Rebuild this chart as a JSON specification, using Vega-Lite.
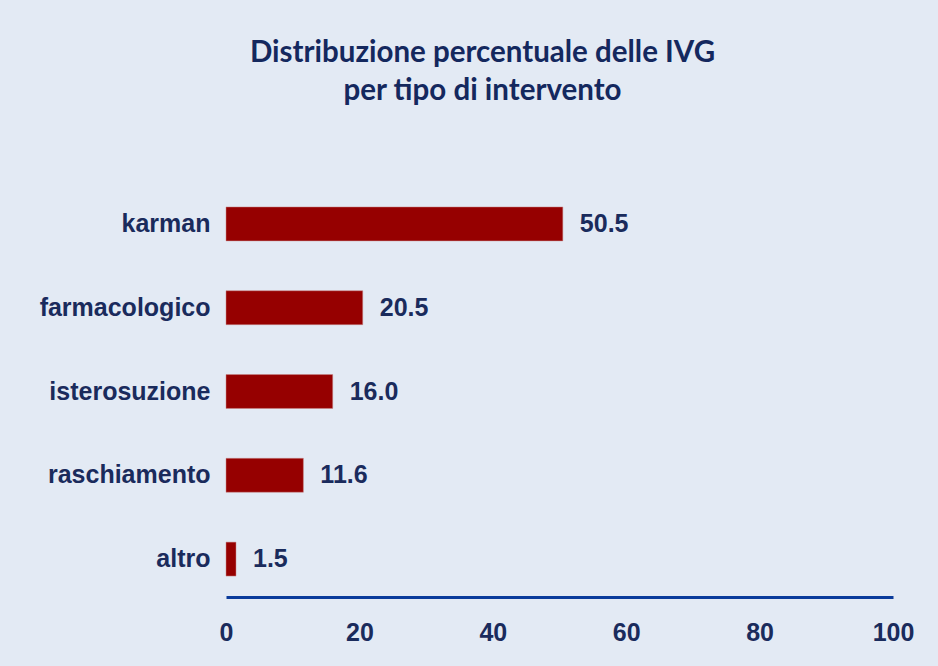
{
  "$schema": "https://vega.github.io/schema/vega-lite/v6.json",
  "width": 667,
  "height": 411,
  "autosize": {"type": "none"},
  "padding": {"left": 226, "top": 186, "right": 45, "bottom": 69},
  "background": "#E3EAF4",
  "config": {"view": {"stroke": null}},
  "title": {
    "text": ["Distribuzione percentuale delle IVG", "per tipo di intervento"],
    "font": "Lato",
    "fontSize": 29.5,
    "fontWeight": "bold",
    "color": "#14285E",
    "lineHeight": 38,
    "anchor": "middle",
    "frame": "group",
    "dx": -77,
    "offset": 80
  },
  "data": {
    "values": [
      {"tipo": "karman", "pct": 50.5},
      {"tipo": "farmacologico", "pct": 20.5},
      {"tipo": "isterosuzione", "pct": 16.0},
      {"tipo": "raschiamento", "pct": 11.6},
      {"tipo": "altro", "pct": 1.5}
    ]
  },
  "encoding": {
    "y": {
      "field": "tipo",
      "type": "nominal",
      "sort": null,
      "scale": {"paddingInner": 0.595, "paddingOuter": 0.25},
      "axis": {
        "title": null,
        "domain": false,
        "ticks": false,
        "labelFont": "Liberation Sans",
        "labelFontWeight": "bold",
        "labelFontSize": 25,
        "labelColor": "#1A2B5C",
        "labelPadding": 16
      }
    },
    "x": {
      "field": "pct",
      "type": "quantitative",
      "scale": {"domain": [0, 100], "nice": false},
      "axis": {
        "title": null,
        "values": [0, 20, 40, 60, 80, 100],
        "grid": false,
        "ticks": false,
        "domainColor": "#0A3B9B",
        "domainWidth": 3,
        "labelFont": "Liberation Sans",
        "labelFontWeight": "bold",
        "labelFontSize": 25,
        "labelColor": "#1A2B5C",
        "labelPadding": 23,
        "labelFlush": false
      }
    }
  },
  "layer": [
    {"mark": {"type": "bar", "color": "#960000", "stroke": "#C98A8A", "strokeWidth": 0.5}},
    {
      "mark": {"type": "text", "align": "left", "dx": 17, "font": "Liberation Sans", "fontWeight": "bold", "fontSize": 25, "color": "#1A2B5C"},
      "encoding": {"text": {"field": "pct", "type": "quantitative", "format": ".1f"}}
    }
  ]
}
